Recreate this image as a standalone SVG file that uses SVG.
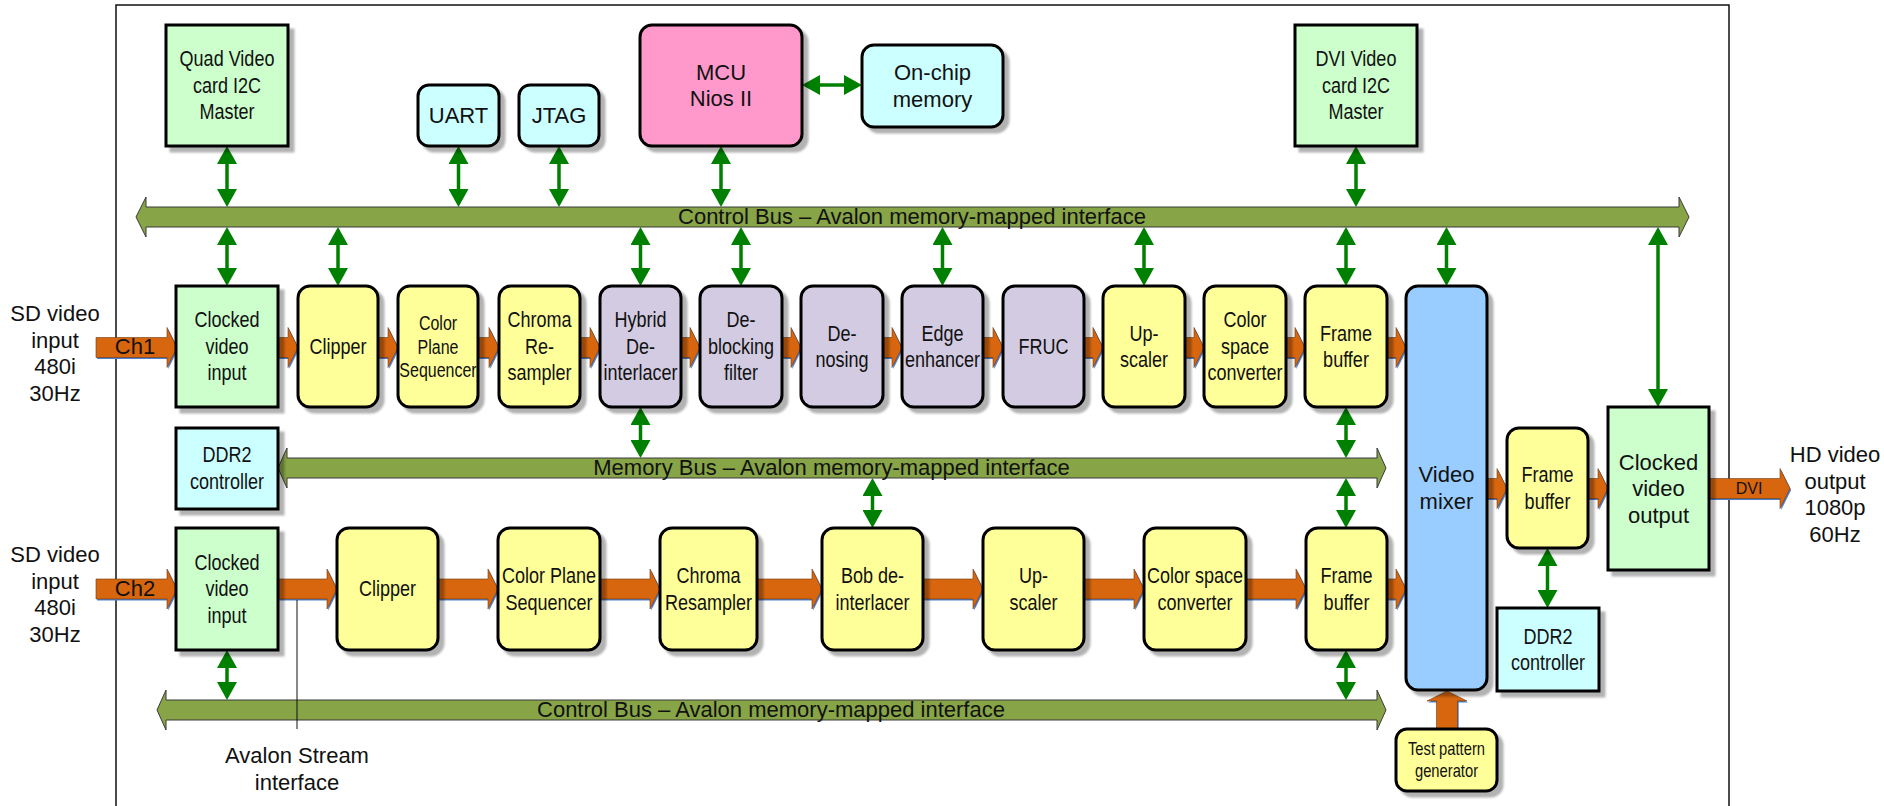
<svg xmlns="http://www.w3.org/2000/svg" xmlns:xlink="http://www.w3.org/1999/xlink" width="1884" height="806" viewBox="0 0 1884 806">
<style>
.box{stroke:#000;stroke-width:3;filter:url(#sh)}
.g{fill:#ccffcc}.y{fill:#ffff99}.l{fill:#d2cbe1}.c{fill:#ccffff}.p{fill:#ff99cc}.b{fill:#99ccff}
.t{font-family:'Liberation Sans',Arial,sans-serif;font-size:22px;fill:#111;text-anchor:middle}
.s{font-size:19.5px}.xs{font-size:18px}
.r{font-family:'Liberation Sans',Arial,sans-serif;font-size:22px;fill:#111;text-anchor:middle}
.bus{fill:#87a447;stroke:#3a3a3a;stroke-width:1}
.ga{stroke:#008000;stroke-width:3.5;fill:none;marker-start:url(#ah);marker-end:url(#ah)}
</style>
<defs>
<filter id="sh" x="-20%" y="-20%" width="140%" height="140%">
<feDropShadow dx="5" dy="5" stdDeviation="1.2" flood-color="#000" flood-opacity="0.3"/>
</filter>
<marker id="ah" viewBox="0 0 18 20" refX="8" refY="10" markerWidth="18" markerHeight="20" markerUnits="userSpaceOnUse" orient="auto-start-reverse">
<path d="M0,0 L18,10 L0,20 z" fill="#008000"/>
</marker>
<g id="flowArrows">
<polygon points="96,337.5 167,337.5 167,327.5 177,347.5 167,367.5 167,357.5 96,357.5"/>
<polygon points="278,337.5 288,337.5 288,327.5 298,347.5 288,367.5 288,357.5 278,357.5"/>
<polygon points="378,337.5 388,337.5 388,327.5 398,347.5 388,367.5 388,357.5 378,357.5"/>
<polygon points="478,337.5 489,337.5 489,327.5 499,347.5 489,367.5 489,357.5 478,357.5"/>
<polygon points="580,337.5 590,337.5 590,327.5 600,347.5 590,367.5 590,357.5 580,357.5"/>
<polygon points="681,337.5 690,337.5 690,327.5 700,347.5 690,367.5 690,357.5 681,357.5"/>
<polygon points="782,337.5 791,337.5 791,327.5 801,347.5 791,367.5 791,357.5 782,357.5"/>
<polygon points="883,337.5 892,337.5 892,327.5 902,347.5 892,367.5 892,357.5 883,357.5"/>
<polygon points="983,337.5 993,337.5 993,327.5 1003,347.5 993,367.5 993,357.5 983,357.5"/>
<polygon points="1084,337.5 1093,337.5 1093,327.5 1103,347.5 1093,367.5 1093,357.5 1084,357.5"/>
<polygon points="1185,337.5 1194,337.5 1194,327.5 1204,347.5 1194,367.5 1194,357.5 1185,357.5"/>
<polygon points="1286,337.5 1295,337.5 1295,327.5 1305,347.5 1295,367.5 1295,357.5 1286,357.5"/>
<polygon points="1387,337.5 1396,337.5 1396,327.5 1406,347.5 1396,367.5 1396,357.5 1387,357.5"/>
<polygon points="96,579 167,579 167,569 177,589 167,609 167,599 96,599"/>
<polygon points="278,579 327,579 327,569 337,589 327,609 327,599 278,599"/>
<polygon points="438,579 488,579 488,569 498,589 488,609 488,599 438,599"/>
<polygon points="600,579 650,579 650,569 660,589 650,609 650,599 600,599"/>
<polygon points="757,579 812,579 812,569 822,589 812,609 812,599 757,599"/>
<polygon points="923,579 973,579 973,569 983,589 973,609 973,599 923,599"/>
<polygon points="1084,579 1134,579 1134,569 1144,589 1134,609 1134,599 1084,599"/>
<polygon points="1246,579 1296,579 1296,569 1306,589 1296,609 1296,599 1246,599"/>
<polygon points="1387,579 1396,579 1396,569 1406,589 1396,609 1396,599 1387,599"/>
<polygon points="1487,478.5 1497,478.5 1497,468.5 1507,488.5 1497,508.5 1497,498.5 1487,498.5"/>
<polygon points="1588,478.5 1598,478.5 1598,468.5 1608,488.5 1598,508.5 1598,498.5 1588,498.5"/>
<polygon points="1709,478.5 1780,478.5 1780,468.5 1790,488.5 1780,508.5 1780,498.5 1709,498.5"/>
<polygon points="1436.5,729 1436.5,701 1427,701 1447,691 1467,701 1457.5,701 1457.5,729"/>
</g>
</defs>
<rect width="1884" height="806" fill="#fff"/>
<rect id="frame" x="116" y="5" width="1613" height="830" fill="none" stroke="#111" stroke-width="1.5"/>

<g id="buses">
<polygon class="bus" points="136,217 146,197 146,207 1679,207 1679,197 1689,217 1679,237 1679,227 146,227 146,237"/>
<text class="r" x="912" y="224">Control Bus – Avalon memory-mapped interface</text>
<polygon class="bus" points="278,468 287,448 287,458 1377,458 1377,448 1386,468 1377,488 1377,478 287,478 287,488"/>
<text class="r" x="831.5" y="475">Memory Bus – Avalon memory-mapped interface</text>
<polygon class="bus" points="157,710 166,690 166,700 1377,700 1377,690 1386,710 1377,730 1377,720 166,720 166,730"/>
<text class="r" x="771" y="717">Control Bus – Avalon memory-mapped interface</text>
</g>

<g id="connectors">
<use xlink:href="#flowArrows" href="#flowArrows" fill="#4f81d0" transform="translate(1.2,1.5)"/>
<use xlink:href="#flowArrows" href="#flowArrows" fill="#d8660f" stroke="#6b3b10" stroke-width="0.6"/>
<text class="r" x="135" y="354">Ch1</text>
<text class="r" x="135" y="596">Ch2</text>
<text class="r" x="1749" y="494" style="font-size:16px">DVI</text>
<line class="ga" x1="227" y1="156" x2="227" y2="197"/>
<line class="ga" x1="458.5" y1="156" x2="458.5" y2="197"/>
<line class="ga" x1="559" y1="156" x2="559" y2="197"/>
<line class="ga" x1="721" y1="156" x2="721" y2="197"/>
<line class="ga" x1="1356" y1="156" x2="1356" y2="197"/>
<line class="ga" x1="812" y1="85" x2="852" y2="85"/>
<line class="ga" x1="227" y1="237" x2="227" y2="276"/>
<line class="ga" x1="338" y1="237" x2="338" y2="276"/>
<line class="ga" x1="640.5" y1="237" x2="640.5" y2="276"/>
<line class="ga" x1="741" y1="237" x2="741" y2="276"/>
<line class="ga" x1="942.5" y1="237" x2="942.5" y2="276"/>
<line class="ga" x1="1144" y1="237" x2="1144" y2="276"/>
<line class="ga" x1="1346" y1="237" x2="1346" y2="276"/>
<line class="ga" x1="1446.5" y1="237" x2="1446.5" y2="276"/>
<line class="ga" x1="1658" y1="237" x2="1658" y2="397"/>
<line class="ga" x1="640.5" y1="417" x2="640.5" y2="448"/>
<line class="ga" x1="1346" y1="417" x2="1346" y2="448"/>
<line class="ga" x1="1346" y1="488" x2="1346" y2="518"/>
<line class="ga" x1="872.5" y1="488" x2="872.5" y2="518"/>
<line class="ga" x1="227" y1="660" x2="227" y2="690"/>
<line class="ga" x1="1346" y1="660" x2="1346" y2="690"/>
<line class="ga" x1="1547.5" y1="558" x2="1547.5" y2="598"/>
<line x1="297" y1="600" x2="297" y2="729" stroke="#111" stroke-width="1"/>
</g>

<g id="quad"><rect class="box g" x="166" y="25" width="122" height="121"/>
<g transform="translate(227,0) scale(0.82,1)"><text class="t" x="0" y="66.5">Quad Video</text><text class="t" x="0" y="93">card I2C</text><text class="t" x="0" y="119.5">Master</text></g></g>
<g id="uart"><rect class="box c" x="418" y="85" width="81" height="61" rx="11"/>
<text class="r" x="458.5" y="123">UART</text></g>
<g id="jtag"><rect class="box c" x="519" y="85" width="80" height="61" rx="11"/>
<text class="r" x="559" y="123">JTAG</text></g>
<g id="mcu"><rect class="box p" x="640" y="25" width="162" height="121" rx="12"/>
<text class="r" x="721" y="79.75">MCU</text><text class="r" x="721" y="106.25">Nios II</text></g>
<g id="onchip"><rect class="box c" x="862" y="45" width="141" height="82" rx="12"/>
<text class="r" x="932.5" y="80.25">On-chip</text><text class="r" x="932.5" y="106.75">memory</text></g>
<g id="dvi"><rect class="box g" x="1295" y="25" width="122" height="121"/>
<g transform="translate(1356,0) scale(0.82,1)"><text class="t" x="0" y="66.5">DVI Video</text><text class="t" x="0" y="93">card I2C</text><text class="t" x="0" y="119.5">Master</text></g></g>

<g id="cvi1"><rect class="box g" x="176" y="286" width="102" height="121"/>
<g transform="translate(227,0) scale(0.82,1)"><text class="t" x="0" y="327.5">Clocked</text><text class="t" x="0" y="354">video</text><text class="t" x="0" y="380.5">input</text></g></g>
<g id="clipper1"><rect class="box y" x="298" y="286" width="80" height="121" rx="12"/>
<g transform="translate(338,0) scale(0.82,1)"><text class="t" x="0" y="354">Clipper</text></g></g>
<g id="cps1"><rect class="box y" x="398" y="286" width="80" height="121" rx="12"/>
<g transform="translate(438,0) scale(0.82,1)"><text class="t s" x="0" y="330.5">Color</text><text class="t s" x="0" y="354">Plane</text><text class="t s" x="0" y="377.5">Sequencer</text></g></g>
<g id="chroma1"><rect class="box y" x="499" y="286" width="81" height="121" rx="12"/>
<g transform="translate(539.5,0) scale(0.82,1)"><text class="t" x="0" y="327.5">Chroma</text><text class="t" x="0" y="354">Re-</text><text class="t" x="0" y="380.5">sampler</text></g></g>
<g id="hybrid"><rect class="box l" x="600" y="286" width="81" height="121" rx="12"/>
<g transform="translate(640.5,0) scale(0.82,1)"><text class="t" x="0" y="327.5">Hybrid</text><text class="t" x="0" y="354">De-</text><text class="t" x="0" y="380.5">interlacer</text></g></g>
<g id="deblock"><rect class="box l" x="700" y="286" width="82" height="121" rx="12"/>
<g transform="translate(741,0) scale(0.82,1)"><text class="t" x="0" y="327.5">De-</text><text class="t" x="0" y="354">blocking</text><text class="t" x="0" y="380.5">filter</text></g></g>
<g id="denoise"><rect class="box l" x="801" y="286" width="82" height="121" rx="12"/>
<g transform="translate(842,0) scale(0.82,1)"><text class="t" x="0" y="340.75">De-</text><text class="t" x="0" y="367.25">nosing</text></g></g>
<g id="edge"><rect class="box l" x="902" y="286" width="81" height="121" rx="12"/>
<g transform="translate(942.5,0) scale(0.82,1)"><text class="t" x="0" y="340.75">Edge</text><text class="t" x="0" y="367.25">enhancer</text></g></g>
<g id="fruc"><rect class="box l" x="1003" y="286" width="81" height="121" rx="12"/>
<g transform="translate(1043.5,0) scale(0.82,1)"><text class="t" x="0" y="354">FRUC</text></g></g>
<g id="upscaler1"><rect class="box y" x="1103" y="286" width="82" height="121" rx="12"/>
<g transform="translate(1144,0) scale(0.82,1)"><text class="t" x="0" y="340.75">Up-</text><text class="t" x="0" y="367.25">scaler</text></g></g>
<g id="csc1"><rect class="box y" x="1204" y="286" width="82" height="121" rx="12"/>
<g transform="translate(1245,0) scale(0.82,1)"><text class="t" x="0" y="327.5">Color</text><text class="t" x="0" y="354">space</text><text class="t" x="0" y="380.5">converter</text></g></g>
<g id="fb1"><rect class="box y" x="1305" y="286" width="82" height="121" rx="12"/>
<g transform="translate(1346,0) scale(0.82,1)"><text class="t" x="0" y="340.75">Frame</text><text class="t" x="0" y="367.25">buffer</text></g></g>
<g id="mixer"><rect class="box b" x="1406" y="286" width="81" height="404" rx="12"/>
<text class="r" x="1446.5" y="482.25">Video</text><text class="r" x="1446.5" y="508.75">mixer</text></g>

<g id="ddr2a"><rect class="box c" x="176" y="428" width="102" height="81"/>
<g transform="translate(227,0) scale(0.82,1)"><text class="t" x="0" y="462.25">DDR2</text><text class="t" x="0" y="488.75">controller</text></g></g>

<g id="cvi2"><rect class="box g" x="176" y="528" width="102" height="122"/>
<g transform="translate(227,0) scale(0.82,1)"><text class="t" x="0" y="570">Clocked</text><text class="t" x="0" y="596.5">video</text><text class="t" x="0" y="623">input</text></g></g>
<g id="clipper2"><rect class="box y" x="337" y="528" width="101" height="122" rx="12"/>
<g transform="translate(387.5,0) scale(0.82,1)"><text class="t" x="0" y="596.5">Clipper</text></g></g>
<g id="cps2"><rect class="box y" x="498" y="528" width="102" height="122" rx="12"/>
<g transform="translate(549,0) scale(0.82,1)"><text class="t" x="0" y="583.25">Color Plane</text><text class="t" x="0" y="609.75">Sequencer</text></g></g>
<g id="chroma2"><rect class="box y" x="660" y="528" width="97" height="122" rx="12"/>
<g transform="translate(708.5,0) scale(0.82,1)"><text class="t" x="0" y="583.25">Chroma</text><text class="t" x="0" y="609.75">Resampler</text></g></g>
<g id="bob"><rect class="box y" x="822" y="528" width="101" height="122" rx="12"/>
<g transform="translate(872.5,0) scale(0.82,1)"><text class="t" x="0" y="583.25">Bob de-</text><text class="t" x="0" y="609.75">interlacer</text></g></g>
<g id="upscaler2"><rect class="box y" x="983" y="528" width="101" height="122" rx="12"/>
<g transform="translate(1033.5,0) scale(0.82,1)"><text class="t" x="0" y="583.25">Up-</text><text class="t" x="0" y="609.75">scaler</text></g></g>
<g id="csc2"><rect class="box y" x="1144" y="528" width="102" height="122" rx="12"/>
<g transform="translate(1195,0) scale(0.82,1)"><text class="t" x="0" y="583.25">Color space</text><text class="t" x="0" y="609.75">converter</text></g></g>
<g id="fb2"><rect class="box y" x="1306" y="528" width="81" height="122" rx="12"/>
<g transform="translate(1346.5,0) scale(0.82,1)"><text class="t" x="0" y="583.25">Frame</text><text class="t" x="0" y="609.75">buffer</text></g></g>

<g id="fb3"><rect class="box y" x="1507" y="428" width="81" height="120" rx="12"/>
<g transform="translate(1547.5,0) scale(0.82,1)"><text class="t" x="0" y="482.25">Frame</text><text class="t" x="0" y="508.75">buffer</text></g></g>
<g id="cvo"><rect class="box g" x="1608" y="407" width="101" height="163"/>
<text class="r" x="1658.5" y="469.5">Clocked</text><text class="r" x="1658.5" y="496">video</text><text class="r" x="1658.5" y="522.5">output</text></g>
<g id="ddr2b"><rect class="box c" x="1497" y="608" width="102" height="83"/>
<g transform="translate(1548,0) scale(0.82,1)"><text class="t" x="0" y="643.75">DDR2</text><text class="t" x="0" y="670.25">controller</text></g></g>
<g id="tpg"><rect class="box y" x="1396" y="729" width="101" height="62" rx="11"/>
<g transform="translate(1446.5,0) scale(0.82,1)"><text class="t xs" x="0" y="755">Test pattern</text><text class="t xs" x="0" y="777">generator</text></g></g>

<g id="labels">
<text class="r" x="55" y="321">SD video</text><text class="r" x="55" y="347.5">input</text><text class="r" x="55" y="374">480i</text><text class="r" x="55" y="400.5">30Hz</text>
<text class="r" x="55" y="562">SD video</text><text class="r" x="55" y="588.5">input</text><text class="r" x="55" y="615">480i</text><text class="r" x="55" y="641.5">30Hz</text>
<text class="r" x="1835" y="462">HD video</text><text class="r" x="1835" y="488.5">output</text><text class="r" x="1835" y="515">1080p</text><text class="r" x="1835" y="541.5">60Hz</text>
<text class="r" x="297" y="763">Avalon Stream</text><text class="r" x="297" y="790">interface</text>
</g>
</svg>
